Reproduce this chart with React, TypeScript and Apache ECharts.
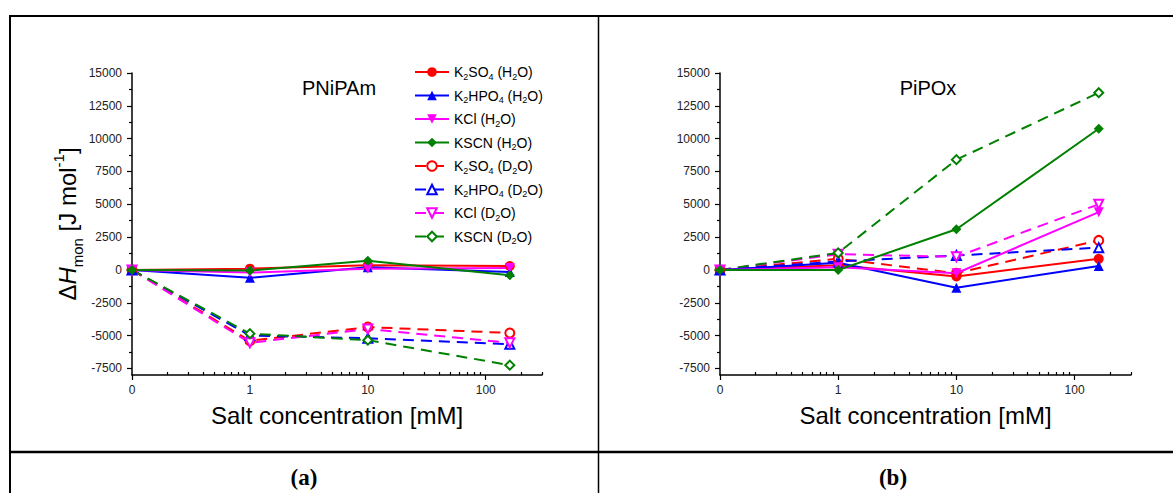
import React, { useEffect, useRef } from 'react';
import * as echarts from 'echarts';

// ---------- data ----------
const concentrations = [0, 1, 10, 160]; // mM
const xMajorConc = [0, 1, 10, 100];
const xMinorConc = [0.2, 0.3, 0.4, 0.5, 0.6, 0.7, 0.8, 0.9, 2, 3, 4, 5, 6, 7, 8, 9, 20, 30, 40, 50, 60, 70, 80, 90, 200, 300];
const yTickValues = [-7500, -5000, -2500, 0, 2500, 5000, 7500, 10000, 12500, 15000];
const yMinorValues = [-6250, -3750, -1250, 1250, 3750, 6250, 8750, 11250, 13750];

const seriesNames = ['K2SO4 (H2O)', 'K2HPO4 (H2O)', 'KCl (H2O)', 'KSCN (H2O)', 'K2SO4 (D2O)', 'K2HPO4 (D2O)', 'KCl (D2O)', 'KSCN (D2O)'];
const legendLabels = [
  'K{s|2}SO{s|4} (H{s|2}O)',
  'K{s|2}HPO{s|4} (H{s|2}O)',
  'KCl (H{s|2}O)',
  'KSCN (H{s|2}O)',
  'K{s|2}SO{s|4} (D{s|2}O)',
  'K{s|2}HPO{s|4} (D{s|2}O)',
  'KCl (D{s|2}O)',
  'KSCN (D{s|2}O)',
];

// PNiPAm (panel a)
const pnK2SO4H2O = [0, 100, 350, 300];
const pnK2HPO4H2O = [0, -600, 200, -150];
const pnKClH2O = [0, -200, 100, 150];
const pnKSCNH2O = [0, -50, 700, -400];
const pnK2SO4D2O = [0, -5400, -4350, -4800];
const pnK2HPO4D2O = [0, -5000, -5200, -5650];
const pnKClD2O = [0, -5550, -4500, -5550];
const pnKSCND2O = [0, -4850, -5350, -7250];

// PiPOx (panel b)
const piK2SO4H2O = [0, 350, -500, 850];
const piK2HPO4H2O = [0, 550, -1350, 300];
const piKClH2O = [0, 200, -250, 4400];
const piKSCNH2O = [0, 0, 3100, 10750];
const piK2SO4D2O = [0, 850, -250, 2250];
const piK2HPO4D2O = [0, 650, 1100, 1700];
const piKClD2O = [0, 1200, 1000, 5000];
const piKSCND2O = [0, 1300, 8400, 13500];

const panelA = [pnK2SO4H2O, pnK2HPO4H2O, pnKClH2O, pnKSCNH2O, pnK2SO4D2O, pnK2HPO4D2O, pnKClD2O, pnKSCND2O];
const panelB = [piK2SO4H2O, piK2HPO4H2O, piKClH2O, piKSCNH2O, piK2SO4D2O, piK2HPO4D2O, piKClD2O, piKSCND2O];

// ---------- styles ----------
const colors = ['#ff0000', '#0000ff', '#ff00ff', '#008000', '#ff0000', '#0000ff', '#ff00ff', '#008000'];
const symbols = ['circle', 'triangle', 'triangle', 'diamond', 'emptyCircle', 'emptyTriangle', 'emptyTriangle', 'emptyDiamond'];
const rotations = [0, 0, 180, 0, 0, 0, 180, 0];
const FONT = '"Liberation Sans", Arial, sans-serif';
const SERIF = '"Liberation Serif", "Times New Roman", serif';

// concentration 0 is drawn one decade below 1 mM on the log axis
const toLogX = (c: number) => (c === 0 ? -1 : Math.log10(c));
const X_MIN = -1;
const X_MAX = Math.log10(300);

const majorLabel: Record<string, string> = { '-1': '0', '0': '1', '1': '10', '2': '100' };

function buildAxes(gridIndex: number) {
  const xMain = {
    type: 'value',
    gridIndex,
    position: 'bottom',
    offset: 0,
    min: X_MIN,
    max: X_MAX,
    axisLine: { show: true, onZero: false, lineStyle: { color: '#000', width: 1.5 } },
    axisTick: { show: true, inside: false, length: 5, lineStyle: { color: '#000', width: 1.2 }, customValues: xMajorConc.map(toLogX) },
    axisLabel: {
      show: true,
      margin: 9,
      fontSize: 12,
      fontFamily: FONT,
      color: '#222',
      customValues: xMajorConc.map(toLogX),
      formatter: (v: number) => majorLabel[String(Math.round(v))] ?? '',
    },
    splitLine: { show: false },
    name: 'Salt concentration [mM]',
    nameLocation: 'middle',
    nameGap: 28,
    nameTextStyle: { fontSize: 24, fontFamily: FONT, color: '#000' },
  };
  const xMinor = {
    type: 'value',
    gridIndex,
    position: 'bottom',
    offset: 0,
    min: X_MIN,
    max: X_MAX,
    axisLine: { show: false, onZero: false },
    axisTick: { show: true, inside: true, length: 3, lineStyle: { color: '#000', width: 1.2 }, customValues: xMinorConc.map(toLogX) },
    axisLabel: { show: false },
    splitLine: { show: false },
  };
  const yMain: any = {
    type: 'value',
    gridIndex,
    position: 'left',
    offset: 0,
    min: -8000,
    max: 15000,
    axisLine: { show: true, onZero: false, lineStyle: { color: '#000', width: 1.5 } },
    axisTick: { show: true, inside: false, length: 5, lineStyle: { color: '#000', width: 1.2 }, customValues: yTickValues },
    axisLabel: {
      show: true,
      margin: 10,
      fontSize: 12,
      fontFamily: FONT,
      color: '#222',
      customValues: yTickValues,
      formatter: (v: number) => String(v),
    },
    splitLine: { show: false },
  };
  if (gridIndex === 0) {
    yMain.name = '{d|Δ}{i|H}{s|mon}{d| [J mol}{p|-1}{d|]}';
    yMain.nameLocation = 'middle';
    yMain.nameRotate = 90;
    yMain.nameGap = 40;
    yMain.nameTextStyle = {
      fontSize: 24,
      fontFamily: FONT,
      color: '#000',
      lineHeight: 34,
      rich: {
        d: { fontSize: 24, fontFamily: FONT, color: '#000', lineHeight: 34 },
        i: { fontSize: 24, fontFamily: FONT, color: '#000', fontStyle: 'italic', lineHeight: 34 },
        s: { fontSize: 15, fontFamily: FONT, color: '#000', lineHeight: 15, verticalAlign: 'bottom' },
        p: { fontSize: 15, fontFamily: FONT, color: '#000', lineHeight: 15, verticalAlign: 'top' },
      },
    };
  }
  const yMinor = {
    type: 'value',
    gridIndex,
    position: 'left',
    offset: 0,
    min: -8000,
    max: 15000,
    axisLine: { show: false, onZero: false },
    axisTick: { show: true, inside: false, length: 3, lineStyle: { color: '#000', width: 1.2 }, customValues: yMinorValues },
    axisLabel: { show: false },
    splitLine: { show: false },
  };
  return { x: [xMain, xMinor], y: [yMain, yMinor] };
}

function buildSeries(panel: number[][], axisIndex: number) {
  return panel.map((vals, i) => {
    const hollow = i >= 4;
    return {
      type: 'line',
      name: seriesNames[i],
      xAxisIndex: axisIndex,
      yAxisIndex: axisIndex,
      data: concentrations.map((c, k) => [toLogX(c), vals[k]]),
      symbol: symbols[i],
      symbolRotate: rotations[i],
      symbolSize: hollow ? 9 : 10,
      showSymbol: true,
      color: colors[i],
      lineStyle: { color: colors[i], width: 2, type: hollow ? [11, 7] : 'solid' },
      itemStyle: { color: colors[i], borderColor: colors[i], borderWidth: hollow ? 1.5 : 0 },
      z: hollow ? 3 : 4,
    };
  });
}

export default function App() {
  const ref = useRef<HTMLDivElement>(null);

  useEffect(() => {
    if (!ref.current) return;
    const chart = echarts.init(ref.current, undefined, { renderer: 'svg' });
    const a = buildAxes(0);
    const b = buildAxes(1);

    const legendMap: Record<string, string> = {};
    seriesNames.forEach((n, i) => (legendMap[n] = legendLabels[i]));

    chart.setOption({
      animation: false,
      backgroundColor: '#fff',
      grid: [
        { left: 132, top: 73, width: 410, height: 302 },
        { left: 720, top: 73, width: 411, height: 302 },
      ],
      xAxis: [a.x[0], b.x[0], a.x[1], b.x[1]],
      yAxis: [a.y[0], b.y[0], a.y[1], b.y[1]],
      legend: {
        orient: 'vertical',
        left: 414,
        top: 63,
        itemWidth: 34,
        itemHeight: 12,
        itemGap: 5.5,
        padding: 0,
        data: seriesNames,
        formatter: (name: string) => legendMap[name] ?? name,
        textStyle: {
          fontSize: 14,
          fontFamily: FONT,
          color: '#000',
          lineHeight: 18,
          rich: {
            s: { fontSize: 9, fontFamily: FONT, color: '#000', lineHeight: 9, verticalAlign: 'bottom' },
          },
        },
      },
      series: [...buildSeries(panelA, 0), ...buildSeries(panelB, 1)],
      graphic: [
        { type: 'line', shape: { x1: 10, y1: 16, x2: 1173, y2: 16 }, style: { stroke: '#000', lineWidth: 2 } },
        { type: 'line', shape: { x1: 10, y1: 15, x2: 10, y2: 493 }, style: { stroke: '#000', lineWidth: 2 } },
        { type: 'line', shape: { x1: 598.5, y1: 16, x2: 598.5, y2: 493 }, style: { stroke: '#000', lineWidth: 1.5 } },
        { type: 'line', shape: { x1: 10, y1: 452, x2: 1173, y2: 452 }, style: { stroke: '#000', lineWidth: 2.5 } },
        { type: 'text', x: 339, y: 88, style: { text: 'PNiPAm', fontSize: 20, fontFamily: FONT, fill: '#000', align: 'center', verticalAlign: 'middle' } },
        { type: 'text', x: 928, y: 88, style: { text: 'PiPOx', fontSize: 20, fontFamily: FONT, fill: '#000', align: 'center', verticalAlign: 'middle' } },
        { type: 'text', x: 304, y: 477, style: { text: '(a)', fontSize: 23, fontWeight: 'bold', fontFamily: SERIF, fill: '#000', align: 'center', verticalAlign: 'middle' } },
        { type: 'text', x: 893, y: 477, style: { text: '(b)', fontSize: 23, fontWeight: 'bold', fontFamily: SERIF, fill: '#000', align: 'center', verticalAlign: 'middle' } },
      ],
    });
    return () => chart.dispose();
  }, []);

  return <div ref={ref} style={{ position: 'absolute', left: 0, top: 0, width: 1173, height: 493 }} />;
}
